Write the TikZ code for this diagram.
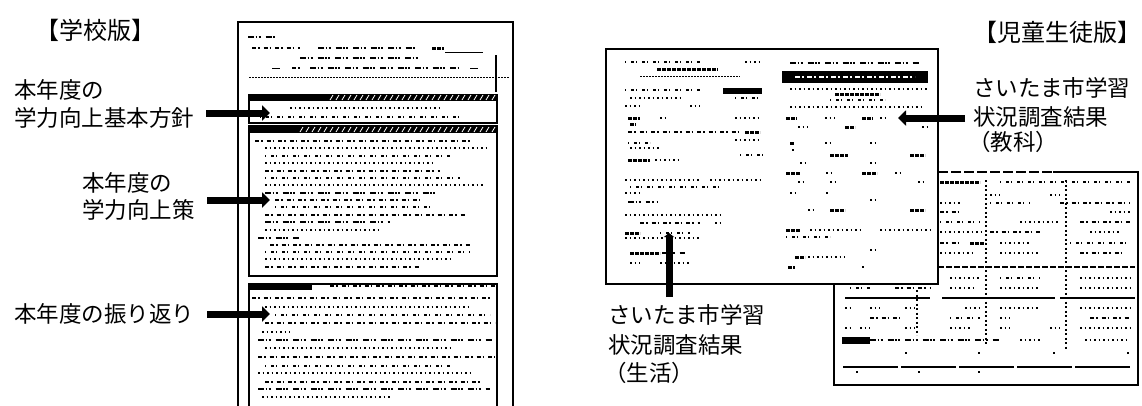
\documentclass[tikz,border=0pt]{standalone}
\usepackage{fontspec}
\newfontfamily\jp{Noto Sans CJK JP}
\usetikzlibrary{arrows.meta}
\tikzset{
 lbl/.style={anchor=west, inner sep=0pt, font=\jp\fontsize{22.5}{27}\selectfont},
 hdr/.style={anchor=center, inner sep=0pt, font=\jp\fontsize{24}{28}\selectfont},
 bigarrow/.style={line width=7pt, -{Triangle[length=8pt,width=15pt]}},
 bigbar/.style={line width=7pt, -{Triangle[length=4pt,width=10pt]}},
 docframe/.style={draw=black, line width=1.6pt},
 boxf/.style={draw=black, line width=2pt},
 p1/.style={line width=1.4pt, dash pattern=on 1.5pt off 3pt},
 p2/.style={line width=1.4pt, dash pattern=on 4pt off 2pt on 1.5pt off 4pt},
 p3/.style={line width=1.4pt, dash pattern=on 1pt off 5pt on 3pt off 2pt},
 p4/.style={line width=1.6pt, dash pattern=on 6pt off 1.5pt on 1.5pt off 1.5pt on 2pt off 5pt},
 pb/.style={line width=3pt, dash pattern=on 4pt off 1pt},
 pt/.style={line width=1pt, dash pattern=on 1.5pt off 1.5pt},
 pv/.style={line width=1.4pt, dash pattern=on 2pt off 2.5pt},
}
\begin{document}
\begin{tikzpicture}[x=1pt,y=-1pt]
\useasboundingbox (0,0) rectangle (1142,405);
\fill[white] (0,0) rectangle (1142,405);

% ---------- headings and labels ----------
\node[hdr] (hschool) at (95,30) {【学校版】};
\node[hdr] (hstudent) at (1057,32) {【児童生徒版】};

\node[lbl] (l1a) at (14,90) {本年度の};
\node[lbl] (l1b) at (14,118) {学力向上基本方針};
\node[lbl] (l2a) at (82,183) {本年度の};
\node[lbl] (l2b) at (82,210) {学力向上策};
\node[lbl] (l3) at (14,314) {本年度の振り返り};

\node[lbl] (r1a) at (973,88) {さいたま市学習};
\node[lbl] (r1b) at (973,117) {状況調査結果};
\node[lbl] (r1c) at (968,142) {（教科）};

\node[lbl] (b1a) at (608,315) {さいたま市学習};
\node[lbl] (b1b) at (608,345) {状況調査結果};
\node[lbl] (b1c) at (604,373) {（生活）};

% ---------- school version sheet ----------
\draw[docframe] (238,407) -- (238,22) -- (513,22) -- (513,407);
% header
\draw[p4] (248,37) -- (275,37);
\draw[p2] (252,48) -- (300,48);
\draw[p4] (318,48) -- (415,48);
\draw[pb] (432,48) -- (444,48);
\draw[line width=0.8pt] (445,52) -- (483,52);
\draw[p4] (300,58) -- (420,58);
\draw[line width=1pt] (272,68) -- (280,68);
\draw[p2] (292,68) -- (302,68);
\draw[p4] (310,68) -- (460,68);
\draw[line width=1pt] (470,68) -- (478,68);
\draw[pt] (249,77) -- (510,77);
\draw[line width=2pt] (496,55) -- (496,92);
% box 1
\draw[line width=1.4pt] (249,95) rectangle (497,123);
\fill (249,94) rectangle (497,101);
\foreach \x in {330,336,...,494} \draw[white, line width=0.8pt] (\x,100) -- (\x+3,95);
\draw[p1] (290,108) -- (440,108);
\draw[p3] (260,117) -- (460,117);
% box 2
\draw[boxf] (249,126) rectangle (497,276);
\fill (249,126) rectangle (497,133);
\foreach \x in {300,306,...,494} \draw[white, line width=0.8pt] (\x,132) -- (\x+3,127);
\foreach \y/\xa/\xb/\s in {141/255/470/p2, 148/265/487/p1, 156/265/450/p3, 163/265/435/p1,
  171/265/440/p2, 178/265/460/p3, 185/265/485/p1, 193/265/440/p4, 200/275/420/p2,
  207/275/430/p3, 215/265/465/p2, 222/265/390/p4, 230/265/380/p1, 238/258/300/p4,
  245/270/470/p2, 252/265/470/p3, 259/265/450/p1, 267/265/420/p2}
  \draw[\s] (\xa,\y) -- (\xb,\y);
% box 3
\draw[boxf] (249,284) rectangle (497,410);
\fill (249,284) rectangle (312,290);
\draw[p2] (330,286) -- (495,286);
\foreach \y/\xa/\xb/\s in {298/252/490/p2, 307/265/470/p1, 315/275/490/p3, 323/265/495/p2,
  332/262/290/p1, 340/258/492/p4, 348/265/450/p1, 357/258/495/p2, 366/265/450/p3,
  373/258/470/p1, 382/265/480/p2, 389/258/490/p4, 397/262/390/p1}
  \draw[\s] (\xa,\y) -- (\xb,\y);

% ---------- student version: back sheet ----------
\fill[white] (834,172) rectangle (1138,385);
\draw[line width=1.6pt] (1053,172) -- (1138,172) -- (1138,385) -- (834,385) -- (834,284);
\draw[line width=1.6pt, dash pattern=on 10pt off 3pt] (938,172) -- (1053,172);
\foreach \y/\xa/\xb/\s in {182/940/980/pb, 182/1000/1130/p3, 195/990/1000/p1, 195/1050/1060/p1,
  203/940/960/p1, 203/990/1030/p3, 203/1060/1130/p2, 212/940/960/p2, 212/1110/1130/p1,
  222/940/980/p3, 222/1020/1060/p1, 222/1080/1130/p2, 232/940/985/p1, 232/990/1040/p2,
  232/1090/1120/p1, 243/940/960/p2, 243/970/985/pb, 243/1000/1030/p1, 243/1070/1130/p3,
  253/940/975/p1, 253/1000/1040/p1, 253/1080/1125/p2,
  278/850/880/p1, 278/900/930/p1, 278/950/980/p1, 278/1000/1040/p3, 278/1080/1130/p1,
  288/850/870/p3, 288/895/930/p2, 288/950/975/p1, 288/1000/1040/p1, 288/1080/1130/p1,
  308/845/850/p1, 308/870/880/p1, 308/905/915/p1, 308/965/980/p1, 308/1000/1040/p1, 308/1080/1130/p1,
  318/870/900/p2, 318/950/980/p3, 318/1000/1010/p1, 318/1090/1130/p2,
  328/845/850/p1, 328/860/870/p1, 328/905/915/p1, 328/950/970/p1, 328/1000/1010/p1,
  328/1050/1060/p1, 328/1080/1130/p1,
  340/870/1000/p4, 340/1020/1040/p1, 340/1085/1130/p1,
  353/905/909/p1, 353/978/982/p1, 353/1053/1057/p1, 353/1127/1131/p1,
  372/856/860/p1, 372/918/922/p1, 372/978/982/p1}
  \draw[\s] (\xa,\y) -- (\xb,\y);
\draw[line width=1.6pt, dash pattern=on 6pt off 2pt] (938,267) -- (1135,267);
\draw[line width=1.3pt] (845,298) -- (930,298) (942,298) -- (1055,298) (1060,298) -- (1135,298);
\draw[pv] (986,180) -- (986,345);
\draw[pv] (1066,180) -- (1066,350);
\draw[pv] (917,290) -- (917,335);
\fill (842,337) rectangle (870,344);
\draw[line width=2.5pt, dash pattern=on 55pt off 3pt] (843,367) -- (1133,367);

% ---------- student version: front sheet ----------
\draw[docframe, fill=white] (606,49) rectangle (938,284);
\foreach \y/\xa/\xb/\s in {62/625/700/p3, 62/745/762/p1, 69/657/718/pb, 76/640/740/pt,
  90/625/700/p3, 98/630/680/p1, 98/735/760/p3, 106/625/640/p1, 106/690/700/p1,
  118/628/640/pb, 118/660/668/p1, 118/735/760/p1, 124/630/636/pb, 132/628/740/p2,
  132/745/760/pb, 140/735/760/p1, 143/628/650/p3, 148/630/660/p1, 155/740/765/p3,
  160/628/650/pb, 160/655/680/p1, 180/625/700/p1, 180/710/760/p1, 187/630/720/p3,
  193/625/640/p1, 202/628/650/p4, 202/652/660/p1, 215/625/720/p1, 223/640/700/p2,
  223/715/720/p1, 233/625/640/pb, 233/660/690/p3, 238/625/700/p1, 253/630/660/pb,
  253/662/685/p4, 263/630/640/p1, 263/660/690/p1,
  63/790/920/p4, 89/790/928/p1, 94/835/880/pb, 100/830/885/p3, 107/790/925/p1,
  118/786/797/pb, 118/825/835/p1, 118/862/873/pb, 118/880/885/p1,
  127/798/808/p1, 127/845/855/pb, 127/922/930/p1,
  143/790/795/pb, 143/825/830/p1, 143/870/875/p1, 150/792/795/p1,
  155/830/848/pb, 155/910/925/pb, 163/800/805/p1, 163/870/875/p1,
  173/786/800/pb, 173/826/832/p1, 173/862/877/pb, 173/895/902/p1,
  182/798/805/p1, 182/830/835/p1, 182/918/925/p1, 193/790/795/p1, 193/826/830/p1,
  200/870/875/p1, 210/830/845/pb, 210/910/925/pb, 210/808/815/p1,
  230/786/800/pb, 230/810/860/p1, 230/880/930/p1, 237/786/830/p3,
  250/870/875/p1, 257/795/805/pb, 257/808/845/p1, 267/788/795/pb, 267/862/866/p1}
  \draw[\s] (\xa,\y) -- (\xb,\y);
\fill (723,88) rectangle (762,94);
\fill (782,71) rectangle (928,83);
\draw[white, line width=1.4pt, dash pattern=on 5pt off 2pt on 2pt off 3pt] (795,77) -- (915,77);

% ---------- arrows ----------
\coordinate (a1s) at (206,113); \coordinate (a1e) at (270,113);
\coordinate (a2s) at (207,200); \coordinate (a2e) at (270,200);
\coordinate (a3s) at (207,314); \coordinate (a3e) at (270,314);
\coordinate (a4s) at (965,118); \coordinate (a4e) at (898,118);
\coordinate (a5s) at (669,297); \coordinate (a5e) at (669,233);
\draw[bigarrow] (a1s) -- (a1e);
\draw[bigarrow] (a2s) -- (a2e);
\draw[bigarrow] (a3s) -- (a3e);
\draw[bigarrow] (a4s) -- (a4e);
\draw[bigbar] (a5s) -- (a5e);
\end{tikzpicture}
\end{document}
